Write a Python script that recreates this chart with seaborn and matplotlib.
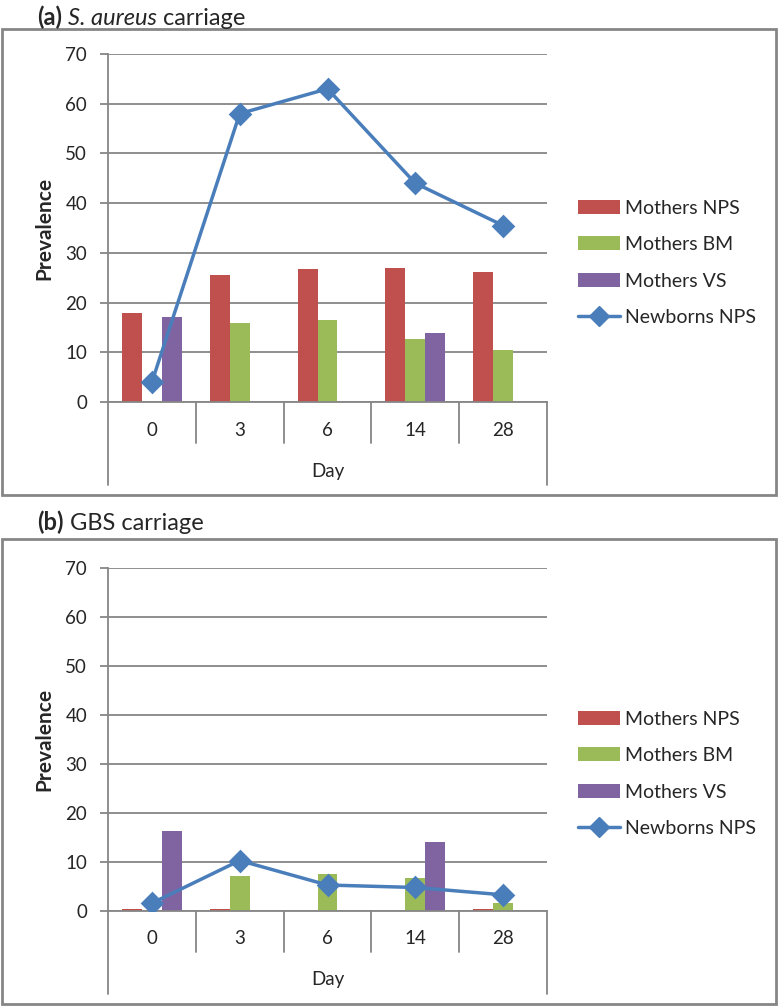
import numpy as np
import pandas as pd
import matplotlib
matplotlib.use("Agg")
import matplotlib.pyplot as plt
from matplotlib.patches import Patch, Rectangle
from matplotlib.lines import Line2D
import seaborn as sns

days = ["0", "3", "6", "14", "28"]
series = ["Mothers NPS", "Mothers BM", "Mothers VS"]

# (a) S. aureus carriage
sa_mothers_nps = [18.0, 25.5, 26.7, 26.9, 26.1]
sa_mothers_bm = [0.0, 15.9, 16.4, 12.7, 10.5]
sa_mothers_vs = [17.1, 0.0, 0.0, 13.9, 0.0]
sa_newborns_nps = [4.0, 58.0, 63.0, 44.0, 35.5]

# (b) GBS carriage
gbs_mothers_nps = [0.4, 0.4, 0.0, 0.0, 0.5]
gbs_mothers_bm = [0.0, 7.1, 7.6, 6.8, 1.6]
gbs_mothers_vs = [16.4, 0.0, 0.0, 14.1, 0.0]
gbs_newborns_nps = [1.6, 10.3, 5.3, 4.8, 3.3]

colors = ["#C0504D", "#9BBB59", "#8064A2"]
blue = "#4A7EBB"
grey = "#868686"

sns.set_style("white")
plt.rcParams["font.family"] = ["Lato", "DejaVu Sans"]

W, H = 780, 1007
fig = plt.figure(figsize=(W / 100, H / 100), dpi=100)


def px_axes(left, right, top, bottom):
    return fig.add_axes([left / W, 1 - bottom / H, (right - left) / W, (bottom - top) / H])


def panel(ax, nps, bm, vs, newborns):
    df = pd.DataFrame({"day": days * 3,
                       "series": np.repeat(series, len(days)),
                       "value": nps + bm + vs})
    sns.barplot(data=df, x="day", y="value", hue="series", order=days,
                hue_order=series, palette=colors, width=0.68, gap=0,
                saturation=1, legend=False, ax=ax, edgecolor="none", zorder=2)
    line = pd.DataFrame({"day": days, "value": newborns})
    sns.pointplot(data=line, x="day", y="value", order=days, color=blue,
                  markers="D", markersize=10, linewidth=2.5, errorbar=None, ax=ax)
    for c in ax.collections:
        c.set_zorder(4)
    for l in ax.lines:
        l.set_zorder(4)

    ax.set_xlim(-0.5, 4.5)
    ax.set_ylim(0, 70)
    ax.set_yticks(range(0, 71, 10))
    ax.set_axisbelow(True)
    ax.yaxis.grid(True, color=grey, lw=1.3)
    ax.xaxis.grid(False)
    for s in ["top", "right"]:
        ax.spines[s].set_visible(False)
    for s in ["left", "bottom"]:
        ax.spines[s].set_color(grey)
        ax.spines[s].set_linewidth(1.3)
    ax.tick_params(axis="y", length=6, width=1.3, color=grey, pad=9,
                   labelsize=13.5, left=True)
    ax.set_xticks([])
    ax.set_xlabel("")
    ax.set_ylabel("Prevalence", fontsize=15, fontweight="bold")
    ax.yaxis.set_label_coords(-0.122, 0.5)

    # multi-level category axis
    hpx = ax.get_position().height * H
    tr = ax.get_xaxis_transform()
    for i in range(1, len(days)):
        ax.plot([i - 0.5, i - 0.5], [0, -41 / hpx], transform=tr, color=grey,
                lw=1.3, clip_on=False)
    for xe in [-0.5, len(days) - 0.5]:
        ax.plot([xe, xe], [0, -83 / hpx], transform=tr, color=grey,
                lw=1.3, clip_on=False)
    for i, d in enumerate(days):
        ax.text(i, -28 / hpx, d, transform=tr, ha="center", va="center", fontsize=13.5)
    ax.text((len(days) - 1) / 2, -69 / hpx, "Day", transform=tr, ha="center",
            va="center", fontsize=13.5)

    handles = [Patch(facecolor=c, edgecolor="none", label=s) for c, s in zip(colors, series)]
    handles.append(Line2D([], [], color=blue, lw=2.5, marker="D", markersize=10,
                          label="Newborns NPS"))
    ax.legend(handles=handles, loc="center left", bbox_to_anchor=(1.07, 0.40),
              frameon=False, fontsize=14, handlelength=2.15, handletextpad=0.3,
              labelspacing=1.0, borderpad=0, borderaxespad=0)


def rich_title(x_px, y_px, pieces):
    renderer = fig.canvas.get_renderer()
    x = x_px
    for txt, kw, gap in pieces:
        t = fig.text(x / W, 1 - y_px / H, txt, fontsize=17, va="baseline", **kw)
        bb = t.get_window_extent(renderer)
        x = bb.x1 + gap


fig.add_artist(Rectangle((2 / W, 1 - 495 / H), 774 / W, 466 / H,
                         transform=fig.transFigure, fill=False, ec=grey, lw=2))
fig.add_artist(Rectangle((2 / W, 1 - 1004 / H), 774 / W, 465 / H,
                         transform=fig.transFigure, fill=False, ec=grey, lw=2))

ax1 = px_axes(108, 547, 54, 402)
panel(ax1, sa_mothers_nps, sa_mothers_bm, sa_mothers_vs, sa_newborns_nps)
ax2 = px_axes(108, 547, 568, 911)
panel(ax2, gbs_mothers_nps, gbs_mothers_bm, gbs_mothers_vs, gbs_newborns_nps)

rich_title(37, 25, [("(a)", {"fontweight": "bold"}, 6),
                    ("S. aureus", {"fontstyle": "italic"}, 6),
                    ("carriage", {}, 0)])
rich_title(37, 530, [("(b)", {"fontweight": "bold"}, 6),
                     ("GBS carriage", {}, 0)])

fig.savefig("out.png", dpi=100)
